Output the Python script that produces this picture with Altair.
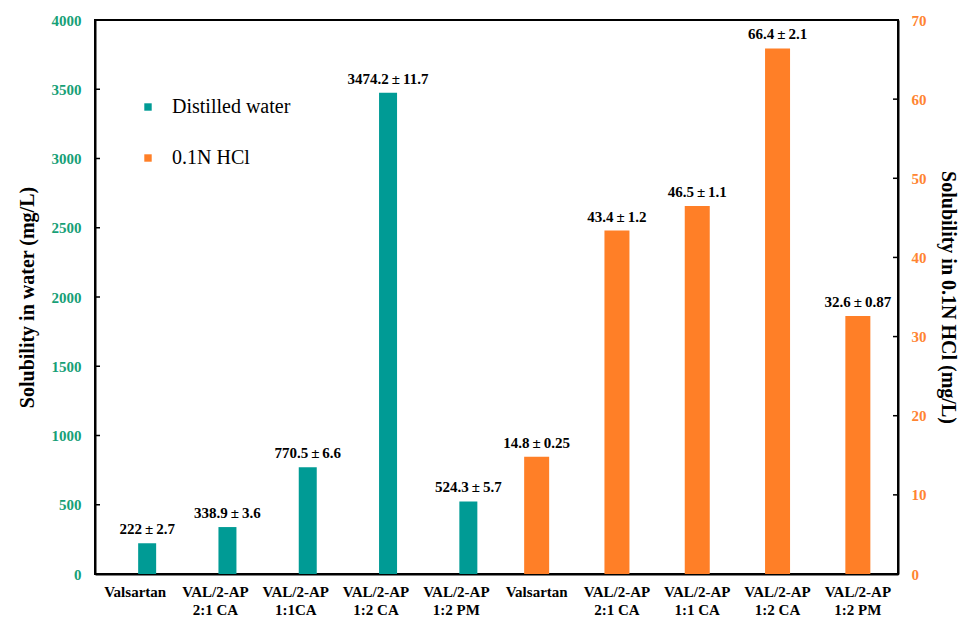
import altair as alt
import pandas as pd

SERIF = "Liberation Serif"
TEAL = "#009b95"
ORANGE = "#ff7f27"
LEFT_LABEL = "#17a077"
RIGHT_LABEL = "#ff8432"

categories = ["Valsartan", "VAL/2-AP|2:1 CA", "VAL/2-AP|1:1CA", "VAL/2-AP|1:2 CA", "VAL/2-AP|1:2 PM",
              "Valsartan", "VAL/2-AP|2:1 CA", "VAL/2-AP|1:1 CA", "VAL/2-AP|1:2 CA", "VAL/2-AP|1:2 PM"]
series = ["Distilled water", "0.1N HCl"]
water_values = [222, 338.9, 770.5, 3474.2, 524.3]
water_mean_text = ["222", "338.9", "770.5", "3474.2", "524.3"]
water_sd_text = ["2.7", "3.6", "6.6", "11.7", "5.7"]
hcl_values = [14.8, 43.4, 46.5, 66.4, 32.6]
hcl_mean_text = ["14.8", "43.4", "46.5", "66.4", "32.6"]
hcl_sd_text = ["0.25", "1.2", "1.1", "2.1", "0.87"]
left_ticks = [0, 500, 1000, 1500, 2000, 2500, 3000, 3500, 4000]
right_ticks = [0, 10, 20, 30, 40, 50, 60, 70]

PM = "\u2009\u00b1\u2009"

water_df = pd.DataFrame({
    "idx": list(range(5)),
    "value": water_values,
    "label": [m + PM + s for m, s in zip(water_mean_text, water_sd_text)],
    "series": series[0],
})
hcl_df = pd.DataFrame({
    "idx": list(range(5, 10)),
    "value": hcl_values,
    "label": [m + PM + s for m, s in zip(hcl_mean_text, hcl_sd_text)],
    "series": series[1],
})
left_tick_df = pd.DataFrame({"t": left_ticks[1:-1]})
right_tick_df = pd.DataFrame({"t": right_ticks[1:-1]})

W, H = 803, 554

label_array = "[" + ",".join("'" + c + "'" for c in categories) + "]"
x_axis = alt.Axis(
    title=None, labelAngle=0, ticks=False,
    labelExpr="split(" + label_array + "[datum.value], '|')",
    labelFont=SERIF, labelFontWeight="bold", labelFontSize=15, labelColor="black",
    labelPadding=10, labelLineHeight=18, domainColor="black", domainWidth=2,
)
x_scale = alt.Scale(domain=list(range(10)), paddingInner=0, paddingOuter=0)
x_enc = alt.X("idx:O", scale=x_scale, axis=x_axis)

color_enc = alt.Color(
    "series:N",
    scale=alt.Scale(domain=series, range=[TEAL, ORANGE]),
    legend=alt.Legend(
        title=None, orient="none", legendX=43, legendY=77,
        symbolType="square", symbolSize=55, symbolStrokeWidth=0,
        labelFont=SERIF, labelFontSize=20, labelColor="black",
        rowPadding=31, labelOffset=14,
    ),
)

left_scale = alt.Scale(domain=[0, 4000], nice=False)
right_scale = alt.Scale(domain=[0, 70], nice=False)

left_axis = alt.Axis(
    orient="left", values=left_ticks, format="d", ticks=False, grid=False,
    labelFont=SERIF, labelFontWeight="bold", labelFontSize=15, labelColor=LEFT_LABEL,
    labelPadding=14, title="Solubility in water (mg/L)", titleFont=SERIF,
    titleFontWeight="bold", titleFontSize=20, titleColor="black", titlePadding=14,
    domainColor="black", domainWidth=2,
)
right_axis = alt.Axis(
    orient="right", values=right_ticks, format="d", ticks=False, grid=False,
    labelFont=SERIF, labelFontWeight="bold", labelFontSize=15, labelColor=RIGHT_LABEL,
    labelPadding=13, title="Solubility in 0.1N HCl (mg/L)", titleFont=SERIF,
    titleFontWeight="bold", titleFontSize=20, titleColor="black", titlePadding=11,
    domainColor="black", domainWidth=2,
)

water_bars = alt.Chart(water_df).mark_bar(size=18, xOffset=12).encode(
    x=x_enc, y=alt.Y("value:Q", scale=left_scale, axis=left_axis), color=color_enc,
)
water_text = alt.Chart(water_df).mark_text(
    xOffset=12, dy=-6, baseline="bottom", font=SERIF, fontWeight="bold", fontSize=15, color="black",
).encode(x=x_enc, y=alt.Y("value:Q", scale=left_scale, axis=None), text="label:N")
water_ticks = alt.Chart(left_tick_df).mark_rule(color="black", strokeWidth=1.5).encode(
    y=alt.Y("t:Q", scale=left_scale, axis=None), x=alt.value(0), x2=alt.value(5),
)

hcl_bars = alt.Chart(hcl_df).mark_bar(size=25).encode(
    x=x_enc, y=alt.Y("value:Q", scale=right_scale, axis=right_axis), color=color_enc,
)
hcl_text = alt.Chart(hcl_df).mark_text(
    dy=-6, baseline="bottom", font=SERIF, fontWeight="bold", fontSize=15, color="black",
).encode(x=x_enc, y=alt.Y("value:Q", scale=right_scale, axis=None), text="label:N")
hcl_ticks = alt.Chart(right_tick_df).mark_rule(color="black", strokeWidth=1.5).encode(
    y=alt.Y("t:Q", scale=right_scale, axis=None), x=alt.value(W - 5), x2=alt.value(W),
)

chart = alt.layer(
    water_bars, water_text, water_ticks, hcl_bars, hcl_text, hcl_ticks
).resolve_scale(y="independent").properties(
    width=W, height=H, autosize=alt.AutoSizeParams(type="none"),
    padding={"left": 95, "top": 20, "right": 62, "bottom": 49},
    background="white",
).configure_view(stroke="black", strokeWidth=2)

chart.save("out.html", embed_options={"renderer": "svg", "actions": False})
